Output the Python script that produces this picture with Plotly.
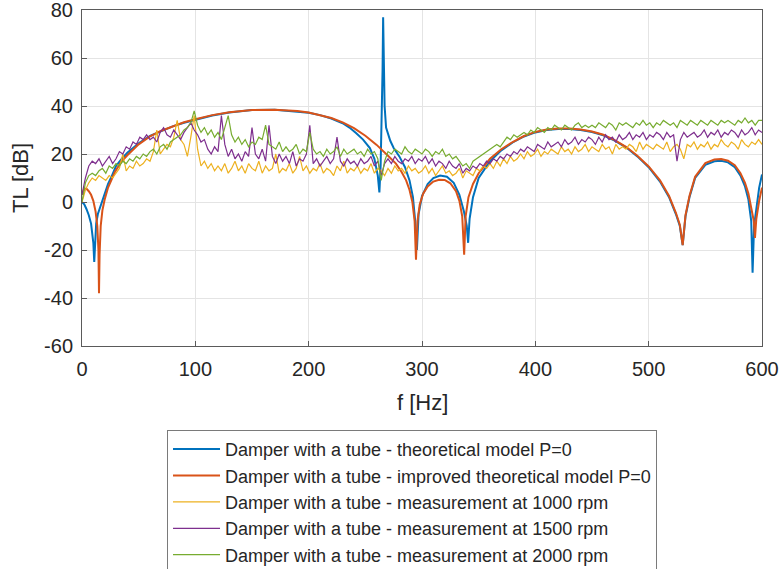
import plotly.graph_objects as go

# frequency grid of the measured spectra (Hz), one sample every 3 Hz
f_meas = list(range(0, 601, 3))

tl_1000 = [
    0, 5, 8, 10, 9, 11, 10, 9, 11, 10,
    12, 14, 20, 13, 15, 14, 17, 15, 16, 18,
    17, 21, 30, 20, 22, 24, 23, 27, 34, 26,
    24, 19, 27, 36, 22, 15, 17, 14, 16, 13,
    15, 13, 16, 12, 14, 17, 13, 15, 12, 16,
    14, 13, 17, 12, 15, 13, 14, 20, 12, 14,
    13, 16, 12, 14, 19, 13, 15, 12, 14, 13,
    16, 12, 14, 13, 11, 15, 13, 17, 12, 14,
    13, 15, 12, 14, 13, 16, 12, 14, 13, 11,
    14, 12, 15, 13, 14, 12, 15, 13, 14, 12,
    13, 15, 12, 14, 11, 13, 15, 12, 13, 11,
    12, 14, 10, 13, 12, 11, 14, 13, 15, 14,
    16, 14, 17, 15, 18, 16, 19, 17, 18, 20,
    18, 21, 19, 20, 22, 19, 21, 20, 22, 21,
    20, 23, 21, 22, 20, 23, 21, 22, 24, 21,
    23, 22, 21, 24, 22, 23, 20, 24, 22, 23,
    22, 24, 23, 21, 25, 22, 24, 23, 22, 24,
    23, 22, 25, 21, 23, 24, 22, 18, 24, 23,
    25, 22, 24, 23, 25, 22, 24, 23, 26, 24,
    23, 25, 24, 22, 26, 24, 23, 25, 24, 26,
    24,
]
tl_1500 = [
    3, 10, 15, 17, 16, 18, 15, 17, 19, 16,
    18, 21, 20, 23, 22, 25, 24, 27, 26, 28,
    26, 27, 25, 29, 31, 28, 27, 30, 28, 26,
    29, 31, 33, 30, 28, 25, 26, 22, 20, 23,
    21, 36, 24, 19, 22, 18, 20, 17, 21, 19,
    31, 20, 18, 22, 17, 32, 19, 16, 20, 17,
    19, 16, 21, 15, 18, 17, 20, 32, 16, 18,
    15, 17, 19, 16, 18, 27, 17, 15, 18, 16,
    17, 15, 18, 16, 17, 19, 15, 17, 11, 16,
    18, 16, 19, 17, 16, 18, 17, 19, 16, 18,
    17, 19, 16, 18, 15, 17, 16, 14, 17, 15,
    14, 16, 12, 14, 13, 15, 14, 16, 15, 17,
    16, 18, 17, 19, 18, 20, 19, 21, 20, 22,
    21, 23, 22, 21, 24, 23, 22, 25, 23, 24,
    25, 23, 26, 24, 25, 27, 24, 26, 25, 27,
    26, 24, 27, 25, 28, 26, 27, 25, 28, 26,
    27, 29, 26, 28, 27, 29, 26, 28, 27, 29,
    28, 26, 29, 27, 28, 17, 26, 29, 27, 28,
    29, 27, 28, 30, 27, 29, 28, 30, 27, 29,
    28, 30, 29, 27, 30, 28, 29, 31, 28, 30,
    29,
]
tl_2000 = [
    0, 8, 11, 12, 11, 13, 14, 12, 15, 14,
    16, 15, 17, 16, 18, 17, 19, 18, 20, 19,
    21, 22, 20, 23, 24, 22, 25, 26, 27, 28,
    30, 31, 33, 38, 32, 29, 31, 28, 30, 27,
    29, 26, 31, 36, 28, 25, 27, 24, 26, 23,
    25, 24, 27, 26, 32, 24, 23, 22, 25, 21,
    23, 21, 22, 24, 20, 22, 21, 29, 22, 20,
    21, 19, 22, 20, 21, 23, 19, 22, 20, 21,
    22, 20, 21, 19, 22, 20, 21, 18, 9, 17,
    21, 20, 22, 21, 20, 23, 21, 20, 22, 21,
    20, 22, 21, 19, 21, 20, 22, 19, 20, 18,
    19, 17, 15, 16, 14, 17, 18, 19, 20, 21,
    22, 23, 24, 23, 25, 27, 26, 28, 27, 28,
    29, 28, 30, 29, 31, 30, 29, 31, 30, 32,
    31, 30, 32, 31, 30, 32, 33, 31, 32, 31,
    32, 31, 33, 32, 31, 33, 32, 30, 33, 32,
    33, 32, 31, 33, 32, 34, 32, 33, 31, 33,
    32, 34, 33, 32, 33, 31, 34, 33, 32, 34,
    33, 32, 34, 33, 32, 34, 33, 32, 34, 33,
    34, 33, 32, 34, 33, 35, 33, 34, 32, 34,
    34,
]

# theoretical model P=0
f_model = [
    0, 2, 4, 6, 8, 9, 10, 10.8, 11.5, 12.5, 14, 16, 18, 20, 23, 26, 30, 35, 40,
    50, 60, 70, 80, 90, 100, 115, 130, 150, 170, 190, 200, 210, 220, 230, 236,
    242, 248, 254, 258, 261, 262.4, 263.5, 264.5, 265.2, 265.7, 266.3, 267,
    268.3, 270, 272, 275, 280, 285, 289, 292, 294, 295.5, 297, 300, 305, 310,
    316, 322, 328, 333, 337, 339.5, 340.7, 342, 345, 350, 360, 370, 380, 390,
    400, 410, 420, 430, 440, 450, 460, 470, 480, 490, 500, 510, 518, 524, 527.5,
    530, 532.5, 536, 541, 550, 558, 564, 570, 576, 581, 585, 588, 590.5, 591.7,
    593, 595, 597.5, 600,
]
tl_model = [
    0, -1, -3, -5.5, -9, -12, -17, -25, -16, -9, -5, -2, 1, 3.7, 7.5, 10.5, 15,
    18, 20.5, 24.5, 27.5, 29.5, 31.5, 33, 34.3, 36, 37.3, 38.3, 38.4, 37.8,
    37.2, 36.2, 34.8, 32.8, 31, 28.6, 26, 22.5, 18, 11, 4, 15, 35, 55, 77, 55,
    40, 31, 28, 25.5, 22.5, 19, 14.5, 9, 2, -8, -20, -5, 2.5, 7.5, 10, 11, 10.5,
    8, 3, -4, -10, -17, -7, 2, 10, 17, 21.5, 24.8, 27.3, 29, 30, 30.4, 30.4, 30,
    29.2, 27.8, 25.6, 22.8, 19, 14.5, 8.5, 2, -5, -10, -18, -6, 2, 10, 15.5, 17,
    17.2, 16.5, 14.5, 11, 6.5, 1, -8, -29.5, -10, -2, 6, 11.5,
]

# improved theoretical model P=0
f_improved = [
    0, 2, 4, 6, 8, 10, 12, 13.5, 14.5, 15, 15.5, 16.5, 18, 20, 23, 26, 29, 35,
    40, 50, 60, 70, 80, 90, 100, 115, 130, 150, 170, 190, 200, 210, 220, 230,
    240, 250, 260, 270, 277, 282, 286, 289, 291.5, 293.5, 294.7, 296, 298, 301,
    305, 310, 315, 320, 325, 330, 333, 335.5, 337.2, 338.5, 341, 345, 350, 360,
    370, 380, 390, 400, 410, 420, 430, 440, 450, 460, 470, 480, 490, 500, 510,
    518, 524, 527.5, 530, 532.5, 536, 541, 550, 558, 564, 570, 576, 581, 585,
    588, 591, 592.8, 593.8, 595, 597.5, 600,
]
tl_improved = [
    3, 5.5, 5.5, 4.5, 3, 0.5, -4, -10, -20, -38, -22, -10, -3.5, 1, 6, 9.5,
    12.5, 17, 19.5, 24, 27.3, 29.7, 31.6, 33.2, 34.5, 36.2, 37.4, 38.3, 38.4,
    37.9, 37.3, 36.3, 35, 33.2, 30.8, 27.6, 23.8, 19.3, 16, 12.5, 9, 5, 0, -8,
    -24, -8, -1, 3.5, 6.5, 8.5, 9.3, 9.2, 7.8, 4.5, 0.5, -6, -22, -6, 2, 7.5,
    12, 18, 22, 25, 27.5, 29.2, 30.2, 30.6, 30.6, 30.2, 29.4, 28, 25.8, 23,
    19.3, 14.8, 9, 2.5, -4.5, -9.5, -18, -5.5, 2.5, 10.5, 16.2, 17.7, 17.9,
    17.2, 15.3, 12, 8, 3.5, -3, -8, -15, -7, 0.5, 6,
]

# tick positions and labels (MATLAB style hyphen minus)
x_ticks = [0, 100, 200, 300, 400, 500, 600]
y_ticks = [-60, -40, -20, 0, 20, 40, 60, 80]
y_tick_labels = ["-60", "-40", "-20", "0", "20", "40", "60", "80"]

names = [
    "Damper with a tube - theoretical model P=0",
    "Damper with a tube - improved theoretical model P=0",
    "Damper with a tube - measurement at 1000 rpm",
    "Damper with a tube - measurement at 1500 rpm",
    "Damper with a tube - measurement at 2000 rpm",
]

font = "Liberation Sans, Arial, Helvetica, sans-serif"
ink = "#262626"

fig = go.Figure()

fig.add_trace(go.Scatter(x=f_model, y=tl_model, mode="lines", name=names[0],
                         line=dict(color="#0072BD", width=2)))
fig.add_trace(go.Scatter(x=f_improved, y=tl_improved, mode="lines", name=names[1],
                         line=dict(color="#D95319", width=2)))
fig.add_trace(go.Scatter(x=f_meas, y=tl_1000, mode="lines", name=names[2],
                         line=dict(color="#EDB120", width=1.2)))
fig.add_trace(go.Scatter(x=f_meas, y=tl_1500, mode="lines", name=names[3],
                         line=dict(color="#7E2F8E", width=1.2)))
fig.add_trace(go.Scatter(x=f_meas, y=tl_2000, mode="lines", name=names[4],
                         line=dict(color="#77AC30", width=1.2)))

axis_common = dict(
    showline=True, mirror=True, linecolor="#5a5a5a", linewidth=1,
    ticks="inside", ticklen=5, tickcolor="#5a5a5a",
    showgrid=True, gridcolor="#e4e4e4", gridwidth=1,
    zeroline=False, ticklabeloverflow="allow",
    tickfont=dict(family=font, size=20, color=ink),
)

fig.update_xaxes(range=[0, 600], tickvals=x_ticks, ticklabelstandoff=5, **axis_common)
fig.update_yaxes(range=[-60, 80], tickvals=y_ticks, ticktext=y_tick_labels,
                 ticklabelstandoff=4, **axis_common)

# axis titles as annotations (fixed margins)
fig.add_annotation(text="f [Hz]", xref="paper", yref="paper", x=0.5, y=0,
                   yanchor="middle", yshift=-56, showarrow=False,
                   font=dict(family=font, size=22, color=ink))
fig.add_annotation(text="TL [dB]", xref="paper", yref="paper", x=0, y=0.5,
                   xanchor="center", xshift=-62, textangle=-90, showarrow=False,
                   font=dict(family=font, size=22, color=ink))

fig.update_layout(
    width=783, height=569,
    margin=dict(l=82, r=21, t=10, b=223, autoexpand=False),
    plot_bgcolor="white", paper_bgcolor="white",
    font=dict(family=font, color=ink),
    showlegend=True,
    legend=dict(
        xref="container", yref="container",
        x=0.2133, y=0.2445, xanchor="left", yanchor="top",
        bgcolor="white", bordercolor="#7a7a7a", borderwidth=1,
        font=dict(family=font, size=18, color=ink),
        tracegroupgap=0, itemwidth=47,
        entrywidth=510, entrywidthmode="pixels",
    ),
)

# drop the default page margin so the figure sits at the window's corner
fig.write_html("out.html", config={"displayModeBar": False},
               post_script="document.body.style.margin='0';")
